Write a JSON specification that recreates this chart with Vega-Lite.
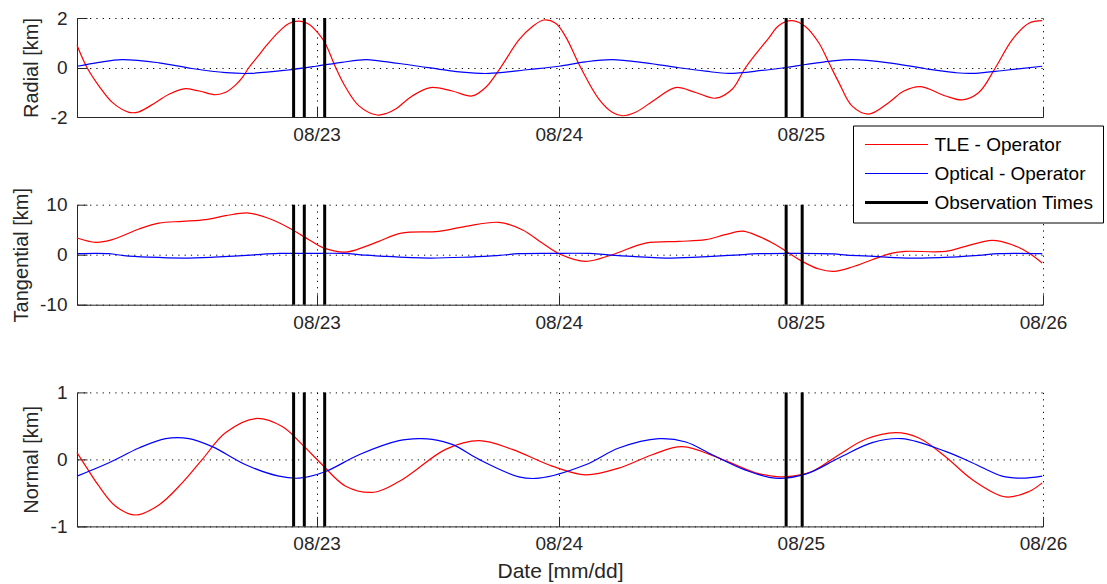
{
  "$schema": "https://vega.github.io/schema/vega-lite/v6.json",
  "background": "white",
  "padding": {"left": 11, "top": 9, "right": 0, "bottom": 2},
  "bounds": "flush",
  "spacing": 87.7,
  "config": {
    "font": "Liberation Sans",
    "view": {"stroke": null},
    "axis": {
      "domainColor": "#262626", "domainWidth": 1,
      "tickColor": "#262626", "tickSize": -10, "tickWidth": 1,
      "grid": true, "gridColor": "#000000", "gridDash": [1.2, 5.1], "gridOpacity": 1, "gridWidth": 1,
      "labelFont": "Liberation Sans", "labelFontSize": 19, "labelColor": "#262626", "labelPadding": 18.5,
      "labelFlush": false, "labelOverlap": false,
      "titleFont": "Liberation Sans", "titleFontSize": 20, "titleFontWeight": "normal", "titleColor": "#262626"
    },
    "axisY": {"titlePadding": 8.5, "labelPadding": 20},
    "axisX": {"titlePadding": 7, "titleFontSize": 21}
  },
  "datasets": {
    "radial": [
      {"series":"TLE - Operator","hour":0.25,"km":0.9},{"series":"TLE - Operator","hour":1.24,"km":0.0},{"series":"TLE - Operator","hour":2.43,"km":-0.75},{"series":"TLE - Operator","hour":3.75,"km":-1.41},{"series":"TLE - Operator","hour":5.4,"km":-1.81},{"series":"TLE - Operator","hour":6.39,"km":-1.79},{"series":"TLE - Operator","hour":8.05,"km":-1.41},{"series":"TLE - Operator","hour":9.37,"km":-1.08},{"series":"TLE - Operator","hour":10.85,"km":-0.86},{"series":"TLE - Operator","hour":12.34,"km":-0.95},{"series":"TLE - Operator","hour":13.99,"km":-1.1},{"series":"TLE - Operator","hour":14.99,"km":-1.0},{"series":"TLE - Operator","hour":15.98,"km":-0.7},{"series":"TLE - Operator","hour":16.63,"km":-0.41},{"series":"TLE - Operator","hour":17.29,"km":0.0},{"series":"TLE - Operator","hour":18.28,"km":0.5},{"series":"TLE - Operator","hour":18.95,"km":0.85},{"series":"TLE - Operator","hour":20.27,"km":1.45},{"series":"TLE - Operator","hour":21.26,"km":1.78},{"series":"TLE - Operator","hour":22.25,"km":1.87},{"series":"TLE - Operator","hour":23.24,"km":1.75},{"series":"TLE - Operator","hour":24.23,"km":1.35},{"series":"TLE - Operator","hour":24.83,"km":1.0},{"series":"TLE - Operator","hour":25.89,"km":0.0},{"series":"TLE - Operator","hour":26.88,"km":-0.8},{"series":"TLE - Operator","hour":28.2,"km":-1.55},{"series":"TLE - Operator","hour":30.01,"km":-1.92},{"series":"TLE - Operator","hour":30.97,"km":-1.85},{"series":"TLE - Operator","hour":31.83,"km":-1.68},{"series":"TLE - Operator","hour":33.48,"km":-1.15},{"series":"TLE - Operator","hour":35.3,"km":-0.81},{"series":"TLE - Operator","hour":37.44,"km":-0.95},{"series":"TLE - Operator","hour":39.42,"km":-1.15},{"series":"TLE - Operator","hour":40.75,"km":-0.81},{"series":"TLE - Operator","hour":42.24,"km":0.0},{"series":"TLE - Operator","hour":44.05,"km":1.12},{"series":"TLE - Operator","hour":45.37,"km":1.65},{"series":"TLE - Operator","hour":46.53,"km":1.92},{"series":"TLE - Operator","hour":47.69,"km":1.79},{"series":"TLE - Operator","hour":48.68,"km":1.25},{"series":"TLE - Operator","hour":50.17,"km":0.0},{"series":"TLE - Operator","hour":51.98,"km":-1.28},{"series":"TLE - Operator","hour":53.3,"km":-1.81},{"series":"TLE - Operator","hour":54.29,"km":-1.95},{"series":"TLE - Operator","hour":55.62,"km":-1.81},{"series":"TLE - Operator","hour":57.6,"km":-1.28},{"series":"TLE - Operator","hour":59.58,"km":-0.81},{"series":"TLE - Operator","hour":61.57,"km":-1.01},{"series":"TLE - Operator","hour":63.55,"km":-1.24},{"series":"TLE - Operator","hour":65.19,"km":-0.88},{"series":"TLE - Operator","hour":66.52,"km":0.0},{"series":"TLE - Operator","hour":68.83,"km":1.2},{"series":"TLE - Operator","hour":69.82,"km":1.7},{"series":"TLE - Operator","hour":71.14,"km":1.89},{"series":"TLE - Operator","hour":72.47,"km":1.65},{"series":"TLE - Operator","hour":73.79,"km":0.99},{"series":"TLE - Operator","hour":74.78,"km":0.19},{"series":"TLE - Operator","hour":75.77,"km":-0.61},{"series":"TLE - Operator","hour":77.06,"km":-1.55},{"series":"TLE - Operator","hour":78.74,"km":-1.88},{"series":"TLE - Operator","hour":80.73,"km":-1.41},{"series":"TLE - Operator","hour":82.21,"km":-0.95},{"series":"TLE - Operator","hour":83.87,"km":-0.77},{"series":"TLE - Operator","hour":86.34,"km":-1.15},{"series":"TLE - Operator","hour":87.99,"km":-1.31},{"series":"TLE - Operator","hour":89.64,"km":-1.01},{"series":"TLE - Operator","hour":91.3,"km":0.0},{"series":"TLE - Operator","hour":92.94,"km":1.12},{"series":"TLE - Operator","hour":94.6,"km":1.79},{"series":"TLE - Operator","hour":95.92,"km":1.89},
      {"series":"Optical - Operator","hour":0.25,"km":0.05},{"series":"Optical - Operator","hour":2.43,"km":0.21},{"series":"Optical - Operator","hour":4.71,"km":0.32},{"series":"Optical - Operator","hour":8.37,"km":0.19},{"series":"Optical - Operator","hour":11.65,"km":-0.04},{"series":"Optical - Operator","hour":15.02,"km":-0.21},{"series":"Optical - Operator","hour":17.29,"km":-0.24},{"series":"Optical - Operator","hour":20.96,"km":-0.11},{"series":"Optical - Operator","hour":23.93,"km":0.05},{"series":"Optical - Operator","hour":26.51,"km":0.21},{"series":"Optical - Operator","hour":28.89,"km":0.32},{"series":"Optical - Operator","hour":30.18,"km":0.27},{"series":"Optical - Operator","hour":33.45,"km":0.09},{"series":"Optical - Operator","hour":38.41,"km":-0.19},{"series":"Optical - Operator","hour":41.08,"km":-0.24},{"series":"Optical - Operator","hour":45.05,"km":-0.08},{"series":"Optical - Operator","hour":48.02,"km":0.05},{"series":"Optical - Operator","hour":50.66,"km":0.23},{"series":"Optical - Operator","hour":53.27,"km":0.32},{"series":"Optical - Operator","hour":56.61,"km":0.19},{"series":"Optical - Operator","hour":59.91,"km":-0.01},{"series":"Optical - Operator","hour":62.56,"km":-0.15},{"series":"Optical - Operator","hour":64.86,"km":-0.24},{"series":"Optical - Operator","hour":68.14,"km":-0.12},{"series":"Optical - Operator","hour":70.49,"km":0.0},{"series":"Optical - Operator","hour":72.47,"km":0.12},{"series":"Optical - Operator","hour":74.78,"km":0.25},{"series":"Optical - Operator","hour":77.06,"km":0.32},{"series":"Optical - Operator","hour":80.73,"km":0.19},{"series":"Optical - Operator","hour":84.36,"km":-0.05},{"series":"Optical - Operator","hour":87.33,"km":-0.21},{"series":"Optical - Operator","hour":88.95,"km":-0.24},{"series":"Optical - Operator","hour":92.29,"km":-0.11},{"series":"Optical - Operator","hour":95.92,"km":0.05}
    ],
    "tangential": [
      {"series":"TLE - Operator","hour":0.25,"km":3.33},{"series":"TLE - Operator","hour":2.1,"km":2.47},{"series":"TLE - Operator","hour":3.75,"km":3.0},{"series":"TLE - Operator","hour":6.39,"km":5.13},{"series":"TLE - Operator","hour":8.37,"km":6.33},{"series":"TLE - Operator","hour":10.68,"km":6.67},{"series":"TLE - Operator","hour":13.0,"km":7.0},{"series":"TLE - Operator","hour":14.99,"km":7.8},{"series":"TLE - Operator","hour":17.29,"km":8.33},{"series":"TLE - Operator","hour":19.6,"km":7.0},{"series":"TLE - Operator","hour":21.59,"km":5.0},{"series":"TLE - Operator","hour":23.24,"km":3.0},{"series":"TLE - Operator","hour":24.56,"km":1.47},{"series":"TLE - Operator","hour":26.88,"km":0.53},{"series":"TLE - Operator","hour":28.86,"km":1.67},{"series":"TLE - Operator","hour":30.18,"km":2.67},{"series":"TLE - Operator","hour":32.4,"km":4.3},{"series":"TLE - Operator","hour":36.12,"km":4.67},{"series":"TLE - Operator","hour":38.77,"km":5.67},{"series":"TLE - Operator","hour":42.07,"km":6.47},{"series":"TLE - Operator","hour":44.38,"km":5.0},{"series":"TLE - Operator","hour":46.36,"km":2.33},{"series":"TLE - Operator","hour":48.02,"km":0.2},{"series":"TLE - Operator","hour":50.66,"km":-1.33},{"series":"TLE - Operator","hour":53.3,"km":0.0},{"series":"TLE - Operator","hour":56.61,"km":2.33},{"series":"TLE - Operator","hour":59.91,"km":2.67},{"series":"TLE - Operator","hour":62.56,"km":3.0},{"series":"TLE - Operator","hour":64.5,"km":4.0},{"series":"TLE - Operator","hour":66.2,"km":4.7},{"series":"TLE - Operator","hour":67.82,"km":3.67},{"series":"TLE - Operator","hour":69.5,"km":2.0},{"series":"TLE - Operator","hour":70.81,"km":0.33},{"series":"TLE - Operator","hour":72.13,"km":-1.33},{"series":"TLE - Operator","hour":73.79,"km":-2.87},{"series":"TLE - Operator","hour":75.27,"km":-3.33},{"series":"TLE - Operator","hour":77.09,"km":-2.47},{"series":"TLE - Operator","hour":79.07,"km":-1.0},{"series":"TLE - Operator","hour":81.05,"km":0.33},{"series":"TLE - Operator","hour":82.38,"km":0.67},{"series":"TLE - Operator","hour":86.34,"km":0.67},{"series":"TLE - Operator","hour":88.33,"km":1.67},{"series":"TLE - Operator","hour":90.96,"km":2.87},{"series":"TLE - Operator","hour":92.94,"km":2.0},{"series":"TLE - Operator","hour":94.6,"km":0.33},{"series":"TLE - Operator","hour":95.92,"km":-1.67},
      {"series":"Optical - Operator","hour":0.25,"km":0.2},{"series":"Optical - Operator","hour":3.42,"km":0.2},{"series":"Optical - Operator","hour":4.91,"km":-0.2},{"series":"Optical - Operator","hour":7.38,"km":-0.5},{"series":"Optical - Operator","hour":10.85,"km":-0.67},{"series":"Optical - Operator","hour":13.83,"km":-0.5},{"series":"Optical - Operator","hour":15.81,"km":-0.3},{"series":"Optical - Operator","hour":17.99,"km":0.0},{"series":"Optical - Operator","hour":20.27,"km":0.25},{"series":"Optical - Operator","hour":23.24,"km":0.27},{"series":"Optical - Operator","hour":26.71,"km":0.25},{"series":"Optical - Operator","hour":28.69,"km":-0.07},{"series":"Optical - Operator","hour":30.67,"km":-0.33},{"series":"Optical - Operator","hour":35.13,"km":-0.67},{"series":"Optical - Operator","hour":39.09,"km":-0.47},{"series":"Optical - Operator","hour":41.87,"km":-0.2},{"series":"Optical - Operator","hour":44.05,"km":0.2},{"series":"Optical - Operator","hour":47.53,"km":0.27},{"series":"Optical - Operator","hour":51.0,"km":0.25},{"series":"Optical - Operator","hour":52.68,"km":0.0},{"series":"Optical - Operator","hour":55.26,"km":-0.33},{"series":"Optical - Operator","hour":59.22,"km":-0.67},{"series":"Optical - Operator","hour":63.18,"km":-0.33},{"series":"Optical - Operator","hour":65.56,"km":-0.07},{"series":"Optical - Operator","hour":67.84,"km":0.2},{"series":"Optical - Operator","hour":71.8,"km":0.27},{"series":"Optical - Operator","hour":75.27,"km":0.15},{"series":"Optical - Operator","hour":76.56,"km":-0.07},{"series":"Optical - Operator","hour":79.24,"km":-0.33},{"series":"Optical - Operator","hour":83.0,"km":-0.7},{"series":"Optical - Operator","hour":86.97,"km":-0.47},{"series":"Optical - Operator","hour":89.64,"km":-0.13},{"series":"Optical - Operator","hour":91.62,"km":0.2},{"series":"Optical - Operator","hour":95.92,"km":0.2}
    ],
    "normal": [
      {"series":"TLE - Operator","hour":0.25,"km":0.1},{"series":"TLE - Operator","hour":1.11,"km":-0.1},{"series":"TLE - Operator","hour":2.43,"km":-0.4},{"series":"TLE - Operator","hour":4.08,"km":-0.7},{"series":"TLE - Operator","hour":6.07,"km":-0.83},{"series":"TLE - Operator","hour":8.37,"km":-0.68},{"series":"TLE - Operator","hour":10.68,"km":-0.35},{"series":"TLE - Operator","hour":12.67,"km":0.0},{"series":"TLE - Operator","hour":14.99,"km":0.4},{"series":"TLE - Operator","hour":17.96,"km":0.61},{"series":"TLE - Operator","hour":20.59,"km":0.49},{"series":"TLE - Operator","hour":22.58,"km":0.22},{"series":"TLE - Operator","hour":24.56,"km":-0.08},{"series":"TLE - Operator","hour":26.88,"km":-0.4},{"series":"TLE - Operator","hour":29.68,"km":-0.49},{"series":"TLE - Operator","hour":32.16,"km":-0.33},{"series":"TLE - Operator","hour":33.48,"km":-0.2},{"series":"TLE - Operator","hour":36.79,"km":0.15},{"series":"TLE - Operator","hour":40.09,"km":0.28},{"series":"TLE - Operator","hour":43.39,"km":0.15},{"series":"TLE - Operator","hour":47.35,"km":-0.1},{"series":"TLE - Operator","hour":50.66,"km":-0.23},{"series":"TLE - Operator","hour":53.96,"km":-0.13},{"series":"TLE - Operator","hour":57.26,"km":0.07},{"series":"TLE - Operator","hour":60.24,"km":0.19},{"series":"TLE - Operator","hour":63.88,"km":0.02},{"series":"TLE - Operator","hour":67.51,"km":-0.2},{"series":"TLE - Operator","hour":69.82,"km":-0.26},{"series":"TLE - Operator","hour":71.11,"km":-0.25},{"series":"TLE - Operator","hour":73.12,"km":-0.18},{"series":"TLE - Operator","hour":75.77,"km":0.07},{"series":"TLE - Operator","hour":78.41,"km":0.3},{"series":"TLE - Operator","hour":81.39,"km":0.4},{"series":"TLE - Operator","hour":83.7,"km":0.32},{"series":"TLE - Operator","hour":86.34,"km":0.04},{"series":"TLE - Operator","hour":88.98,"km":-0.3},{"series":"TLE - Operator","hour":92.29,"km":-0.56},{"series":"TLE - Operator","hour":94.6,"km":-0.48},{"series":"TLE - Operator","hour":95.92,"km":-0.35},
      {"series":"Optical - Operator","hour":0.25,"km":-0.25},{"series":"Optical - Operator","hour":3.42,"km":-0.05},{"series":"Optical - Operator","hour":6.39,"km":0.17},{"series":"Optical - Operator","hour":9.04,"km":0.31},{"series":"Optical - Operator","hour":11.35,"km":0.31},{"series":"Optical - Operator","hour":13.66,"km":0.19},{"series":"Optical - Operator","hour":16.97,"km":-0.08},{"series":"Optical - Operator","hour":20.27,"km":-0.25},{"series":"Optical - Operator","hour":22.25,"km":-0.28},{"series":"Optical - Operator","hour":24.9,"km":-0.18},{"series":"Optical - Operator","hour":28.2,"km":0.07},{"series":"Optical - Operator","hour":32.16,"km":0.28},{"series":"Optical - Operator","hour":34.14,"km":0.31},{"series":"Optical - Operator","hour":35.46,"km":0.3},{"series":"Optical - Operator","hour":37.5,"km":0.22},{"series":"Optical - Operator","hour":40.09,"km":0.0},{"series":"Optical - Operator","hour":44.05,"km":-0.26},{"series":"Optical - Operator","hour":46.04,"km":-0.28},{"series":"Optical - Operator","hour":50.66,"km":-0.08},{"series":"Optical - Operator","hour":53.96,"km":0.17},{"series":"Optical - Operator","hour":57.93,"km":0.31},{"series":"Optical - Operator","hour":60.6,"km":0.26},{"series":"Optical - Operator","hour":63.21,"km":0.07},{"series":"Optical - Operator","hour":66.52,"km":-0.16},{"series":"Optical - Operator","hour":69.43,"km":-0.28},{"series":"Optical - Operator","hour":72.47,"km":-0.22},{"series":"Optical - Operator","hour":75.77,"km":0.02},{"series":"Optical - Operator","hour":79.07,"km":0.25},{"series":"Optical - Operator","hour":82.01,"km":0.31},{"series":"Optical - Operator","hour":86.34,"km":0.12},{"series":"Optical - Operator","hour":88.98,"km":-0.05},{"series":"Optical - Operator","hour":91.95,"km":-0.25},{"series":"Optical - Operator","hour":93.9,"km":-0.28},{"series":"Optical - Operator","hour":95.92,"km":-0.25}
    ],
    "obs": [
      {"series":"Observation Times","hour":21.72},{"series":"Observation Times","hour":22.78},{"series":"Observation Times","hour":24.8},{"series":"Observation Times","hour":70.54},{"series":"Observation Times","hour":72.13}
    ]
  },
  "vconcat": [
    {
      "width": 966, "height": 99,
      "layer": [
        {"data": {"name": "radial"}, "mark": {"type": "line", "interpolate": "catmull-rom", "strokeWidth": 1.2},
         "encoding": {
           "x": {"field": "hour", "type": "quantitative", "scale": {"domain": [0.25, 96], "nice": false, "zero": false}, "axis": {"values": [24, 48, 72, 96], "labelExpr": "'08/' + (22 + datum.value/24)", "title": null}},
           "y": {"field": "km", "type": "quantitative", "scale": {"domain": [-2, 2], "nice": false}, "axis": {"values": [-2, 0, 2], "labelExpr": "'' + datum.value", "title": "Radial [km]"}},
           "color": {"field": "series", "type": "nominal", "scale": {"domain": ["TLE - Operator", "Optical - Operator", "Observation Times"], "range": ["#ff0000", "#0000ff", "#000000"]},
             "legend": {"title": null, "orient": "none", "legendX": 776, "legendY": 107.5, "fillColor": "white", "strokeColor": "black", "padding": 9.5, "symbolType": "M-1.4,0H11.2", "symbolSize": 100, "labelFontSize": 19, "labelFont": "Liberation Sans", "labelColor": "#000000", "labelOffset": 53, "labelLimit": 400, "rowPadding": 9,
               "encode": {"symbols": {"update": {"strokeWidth": {"signal": "datum.value === 'Observation Times' ? 3 : 1.2"}}}}}}
         }},
        {"data": {"name": "obs"}, "mark": {"type": "rule", "strokeWidth": 3},
         "encoding": {"x": {"field": "hour", "type": "quantitative"}, "color": {"field": "series", "type": "nominal"}}}
      ]
    },
    {
      "width": 966, "height": 100,
      "layer": [
        {"data": {"name": "tangential"}, "mark": {"type": "line", "interpolate": "catmull-rom", "strokeWidth": 1.2},
         "encoding": {
           "x": {"field": "hour", "type": "quantitative", "scale": {"domain": [0.25, 96], "nice": false, "zero": false}, "axis": {"values": [24, 48, 72, 96], "labelExpr": "'08/' + (22 + datum.value/24)", "title": null}},
           "y": {"field": "km", "type": "quantitative", "scale": {"domain": [-10, 10], "nice": false}, "axis": {"values": [-10, 0, 10], "labelExpr": "'' + datum.value", "title": "Tangential [km]"}},
           "color": {"field": "series", "type": "nominal"}
         }},
        {"data": {"name": "obs"}, "mark": {"type": "rule", "strokeWidth": 3},
         "encoding": {"x": {"field": "hour", "type": "quantitative"}, "color": {"field": "series", "type": "nominal"}}}
      ]
    },
    {
      "width": 966, "height": 134,
      "layer": [
        {"data": {"name": "normal"}, "mark": {"type": "line", "interpolate": "catmull-rom", "strokeWidth": 1.2},
         "encoding": {
           "x": {"field": "hour", "type": "quantitative", "scale": {"domain": [0.25, 96], "nice": false, "zero": false}, "axis": {"values": [24, 48, 72, 96], "labelExpr": "'08/' + (22 + datum.value/24)", "title": "Date [mm/dd]"}},
           "y": {"field": "km", "type": "quantitative", "scale": {"domain": [-1, 1], "nice": false}, "axis": {"values": [-1, 0, 1], "labelExpr": "'' + datum.value", "title": "Normal [km]"}},
           "color": {"field": "series", "type": "nominal"}
         }},
        {"data": {"name": "obs"}, "mark": {"type": "rule", "strokeWidth": 3},
         "encoding": {"x": {"field": "hour", "type": "quantitative"}, "color": {"field": "series", "type": "nominal"}}}
      ]
    }
  ]
}
